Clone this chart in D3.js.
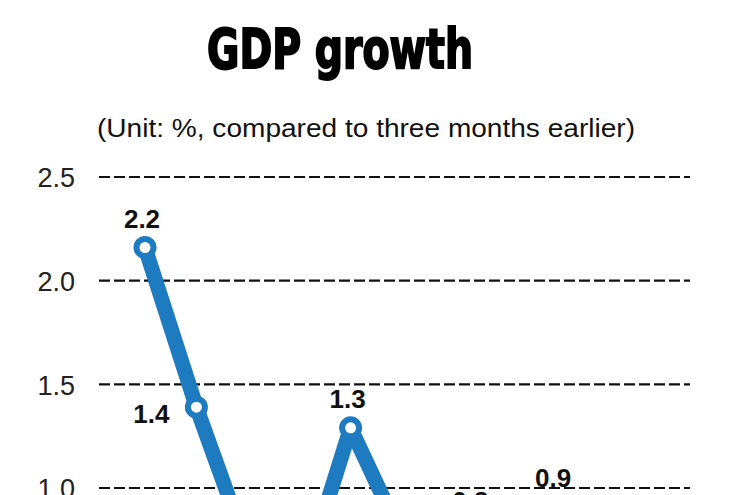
<!DOCTYPE html>
<meta charset="utf-8" />
<style>
  body { margin: 0; overflow: hidden; background: #fff; }
  svg { display: block; }
  .grid line { stroke: #111; stroke-width: 2.2px; stroke-dasharray: 11,4; }
  .line { fill: none; stroke: #1f7bc0; stroke-width: 15px; stroke-linejoin: round; }
</style>
<body>
<script src="https://cdnjs.cloudflare.com/ajax/libs/d3/7.8.5/d3.min.js"></script>
<script>

// quarters on the chart (the lower part is cut off in the picture)
var quarters = ["Q1 2010", "Q2 2010", "Q3 2010", "Q4 2010",
                "Q1 2011", "Q2 2011", "Q3 2011", "Q4 2011",
                "Q1 2012", "Q2 2012", "Q3 2012"];
// growth vs three months earlier, %
var growth = [2.16, 1.39, 0.7, 0.5, 1.29, 0.76, 0.8, 0.3, 0.91, 0.3, 0.2];
var yTicks = [0, 0.5, 1.0, 1.5, 2.0, 2.5];

var width = 750, height = 760;

var svg = d3.select("body").append("svg")
    .attr("width", width)
    .attr("height", height);

// title
svg.append("text")
    .attr("x", 207)
    .attr("y", 68)
    .attr("textLength", 266)
    .attr("lengthAdjust", "spacingAndGlyphs")
    .style("font-family", "'Liberation Sans Narrow', 'DejaVu Sans Condensed', 'Liberation Sans', sans-serif")
    .style("font-weight", 700)
    .style("font-size", "56px")
    .style("stroke", "#000")
    .style("stroke-width", "2px")
    .text("GDP growth");

svg.append("text")
    .attr("x", 97)
    .attr("y", 137)
    .attr("textLength", 538)
    .attr("lengthAdjust", "spacingAndGlyphs")
    .style("font-family", "'Liberation Sans', Arial, sans-serif")
    .style("font-size", "25px")
    .style("fill", "#111")
    .text("(Unit: %, compared to three months earlier)");

// scales
var x = d3.scalePoint()
    .domain(quarters)
    .range([145, 659]);

var y = d3.scaleLinear()
    .domain([0, 2.5])
    .range([695.3, 177]);

// dashed grid
svg.append("g")
    .attr("class", "grid")
    .selectAll("line")
    .data(yTicks)
    .enter().append("line")
    .attr("x1", 99)
    .attr("x2", 690)
    .attr("y1", function(d) { return y(d); })
    .attr("y2", function(d) { return y(d); });

// y axis labels
var yAxis = svg.append("g")
    .attr("transform", "translate(75,0)")
    .call(d3.axisLeft(y).tickValues(yTicks).tickFormat(d3.format(".1f")).tickSize(0).tickPadding(0));
yAxis.select(".domain").remove();
yAxis.selectAll("text")
    .attr("dy", "0.36em")
    .style("font-family", "'Liberation Sans', Arial, sans-serif")
    .style("font-size", "27px")
    .style("fill", "#222");

// the line
var valueline = d3.line()
    .x(function(d, i) { return x(quarters[i]); })
    .y(function(d) { return y(d); });

svg.append("path")
    .datum(growth)
    .attr("class", "line")
    .attr("d", valueline);

// markers
svg.selectAll(".dot")
    .data(growth)
    .enter().append("circle")
    .attr("class", "dot")
    .attr("cx", function(d, i) { return x(quarters[i]); })
    .attr("cy", function(d) { return y(d); })
    .attr("r", 8.5)
    .style("fill", "#fff")
    .style("stroke", "#1f7bc0")
    .style("stroke-width", 6);

// value labels, mostly above the point; a couple are moved aside
svg.selectAll(".lbl")
    .data(growth)
    .enter().append("text")
    .attr("class", "lbl")
    .attr("x", function(d, i) {
        var dx = -3;
        if (i == 1) dx = -45;
        if (i == 6) dx = 17;
        return x(quarters[i]) + dx;
    })
    .attr("y", function(d, i) { return y(d) + (i == 1 ? 7 : -29); })
    .attr("dy", "0.36em")
    .attr("text-anchor", "middle")
    .style("font-family", "'Liberation Sans', Arial, sans-serif")
    .style("font-weight", 700)
    .style("font-size", "26px")
    .style("fill", "#111")
    .text(function(d) { return d3.format(".1f")(d); });

</script>
</body>
